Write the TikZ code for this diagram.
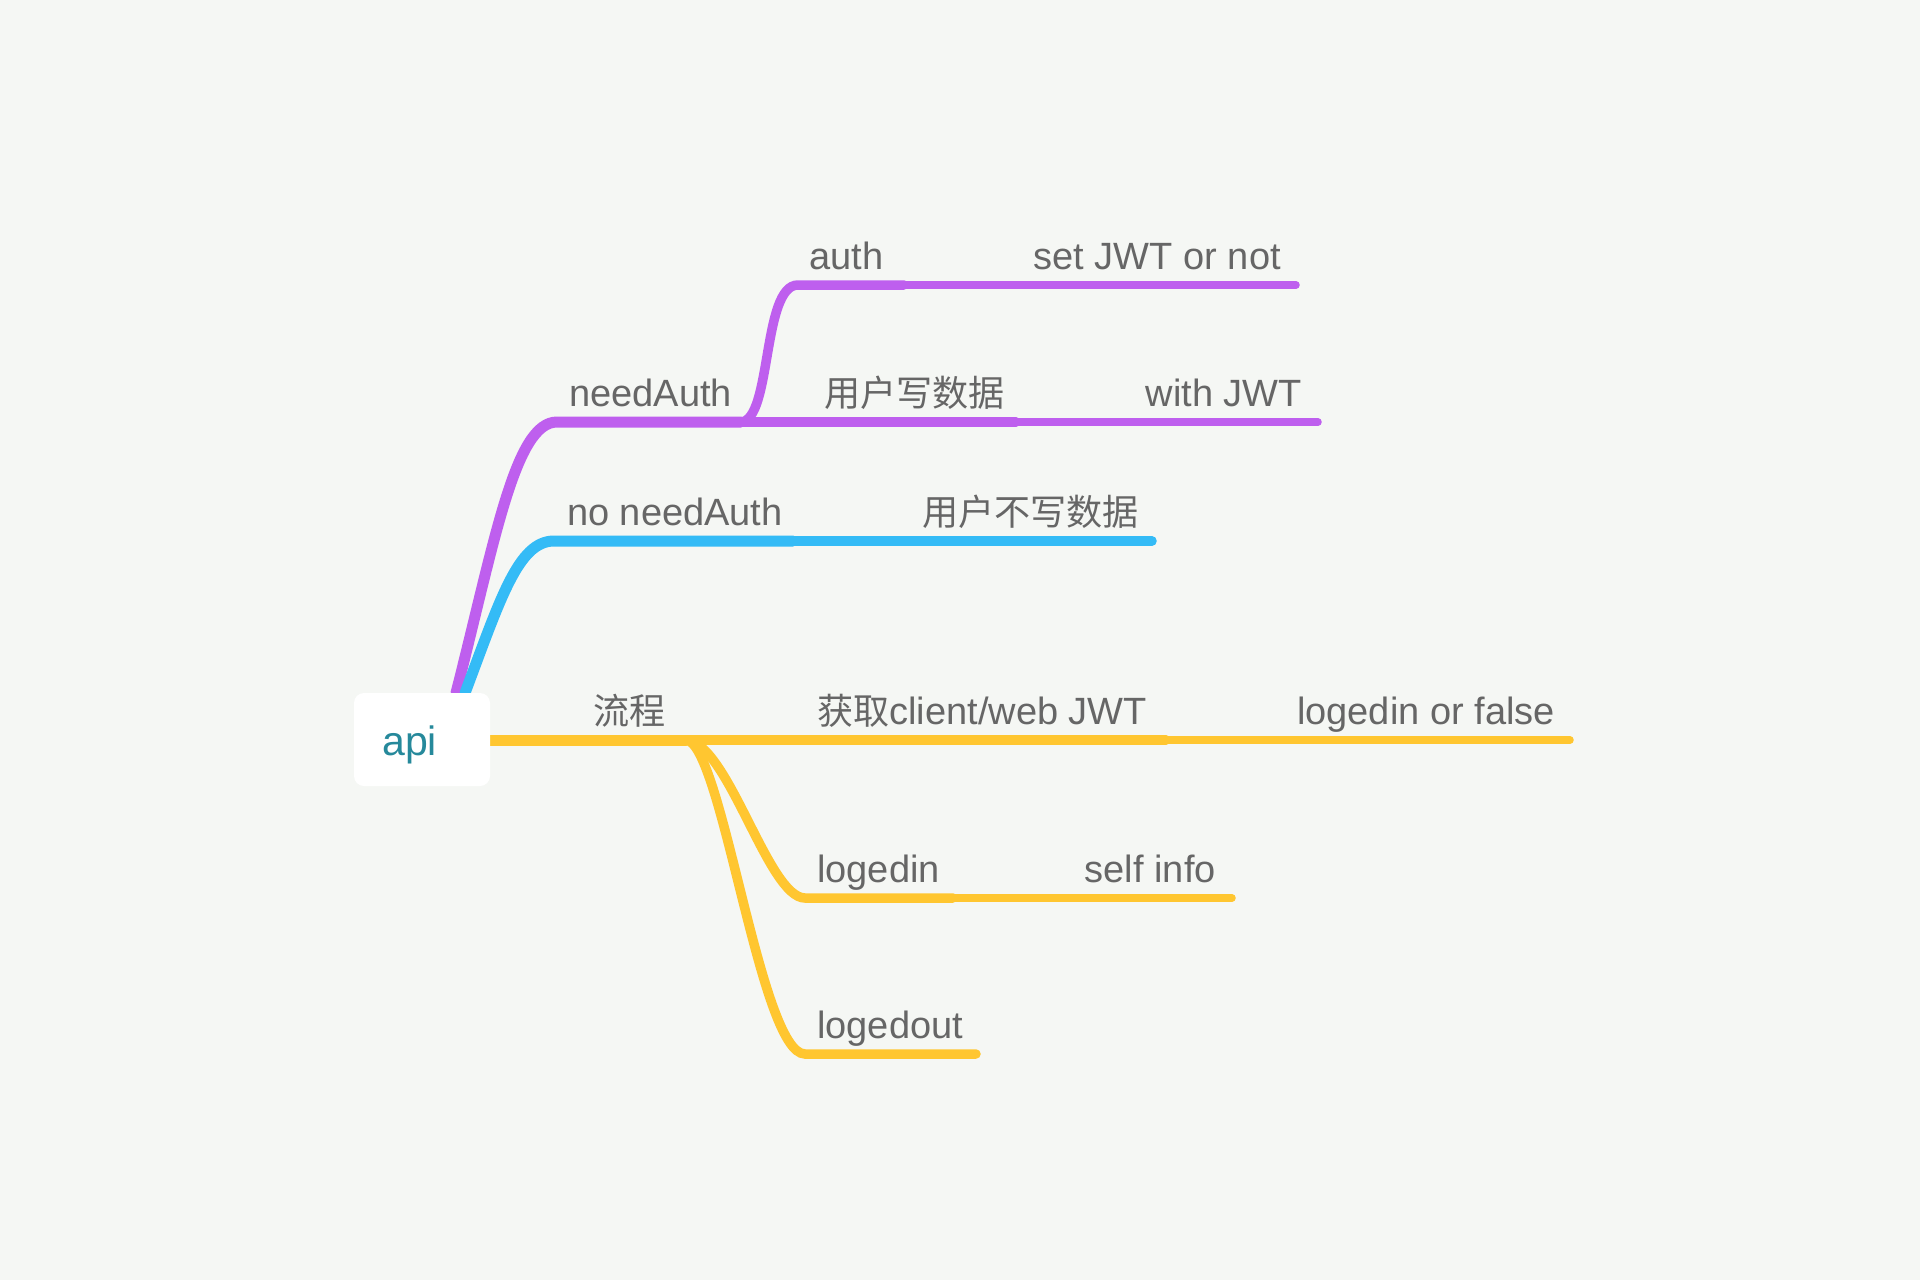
\documentclass[tikz,border=0pt]{standalone}
\usepackage{fontspec}
\setmainfont{Liberation Sans}
\newfontfamily\cjk{Noto Sans CJK SC}[Scale=0.95]
\definecolor{bgc}{RGB}{245,247,244}
\definecolor{purp}{RGB}{190,95,238}
\definecolor{sky}{RGB}{52,187,246}
\definecolor{gold}{RGB}{255,198,48}
\definecolor{txtc}{RGB}{102,102,102}
\definecolor{apiteal}{RGB}{38,137,155}
\tikzset{
  lone/.style={line width=11pt, line cap=round},
  ltwo/.style={line width=9.5pt, line cap=round},
  lthree/.style={line width=7.5pt, line cap=round},
  lbl/.style={font=\fontsize{38}{44}\selectfont, text=txtc, inner sep=0pt},
  rootbox/.style={fill=white, rounded corners=10pt, minimum width=136pt, minimum height=93pt, inner sep=0pt},
}
\begin{document}
\begin{tikzpicture}[x=1pt,y=-1pt]
\useasboundingbox[fill=bgc] (0,0) rectangle (1920,1280);
% coordinates
\coordinate (pA) at (456,693);
\coordinate (pB) at (557,422);
\coordinate (pC) at (741,422);
\coordinate (pD) at (798,285);
\coordinate (pE) at (904,285);
\coordinate (pF) at (1296,285);
\coordinate (pG) at (1016,422);
\coordinate (pH) at (1318,422);
\coordinate (bA) at (465,693);
\coordinate (bB) at (554,541);
\coordinate (bC) at (793,541);
\coordinate (bD) at (1152,541);
\coordinate (yA) at (490,740);
\coordinate (yB) at (686,740);
\coordinate (yC) at (1166,740);
\coordinate (yD) at (1570,740);
\coordinate (yE) at (805,898);
\coordinate (yF) at (953,898);
\coordinate (yG) at (1232,898);
\coordinate (yH) at (805,1054);
\coordinate (yI) at (976,1054);
% purple
\draw[lone, purp] (pA) .. controls (495,540) and (515,422) .. (pB) -- (pC);
\draw[ltwo, purp] (pC) .. controls (772,420) and (762,285) .. (pD) -- (pE);
\draw[lthree, purp] (pE) -- (pF);
\draw[ltwo, purp] (pC) -- (pG);
\draw[lthree, purp] (pG) -- (pH);
% blue
\draw[lone, sky] (bA) .. controls (500,600) and (518,541) .. (bB) -- (bC);
\draw[ltwo, sky] (bC) -- (bD);
% yellow
\draw[lone, gold] (yA) -- (yB);
\draw[ltwo, gold] (yB) -- (yC);
\draw[lthree, gold] (yC) -- (yD);
\draw[ltwo, gold] (yB) .. controls (728,742) and (768,898) .. (yE) -- (yF);
\draw[lthree, gold] (yF) -- (yG);
\draw[ltwo, gold] (yB) .. controls (722,742) and (760,1054) .. (yH) -- (yI);
% root
\node[rootbox] (api) at (422,739.5) {};
\node[font=\fontsize{41}{48}\selectfont, text=apiteal, inner sep=0pt, anchor=base west] (apiLbl) at (382,755) {api};
% labels
\node[lbl, anchor=base west] (tNeed) at (569,406) {needAuth};
\node[lbl, anchor=base west] (tAuth) at (809,269) {auth};
\node[lbl, anchor=base east] (tSet) at (1281,269) {set JWT or not};
\node[lbl, anchor=base west] (tWrite) at (824,406) {\cjk 用户写数据};
\node[lbl, anchor=base east] (tWith) at (1302,406) {with JWT};
\node[lbl, anchor=base west] (tNo) at (567,525) {no needAuth};
\node[lbl, anchor=base east] (tNoWrite) at (1139,525) {\cjk 用户不写数据};
\node[lbl, anchor=base west] (tFlow) at (593,724) {\cjk 流程};
\node[lbl, anchor=base west] (tGet) at (817,724) {{\cjk 获取}client/web JWT};
\node[lbl, anchor=base east] (tOr) at (1555,724) {logedin or false};
\node[lbl, anchor=base west] (tIn) at (817,882) {logedin};
\node[lbl, anchor=base east] (tSelf) at (1216,882) {self info};
\node[lbl, anchor=base west] (tOut) at (817,1038) {logedout};
\end{tikzpicture}
\end{document}
